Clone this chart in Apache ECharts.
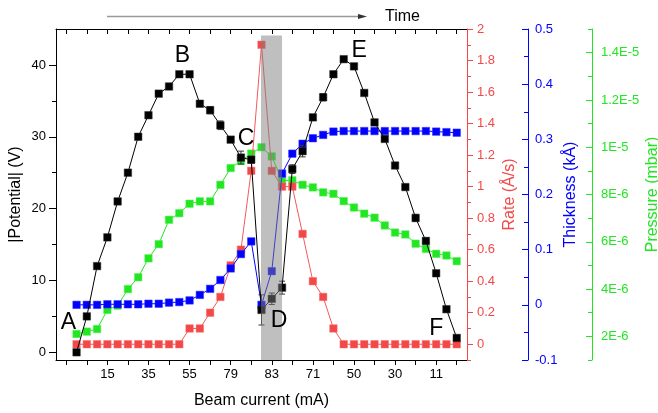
<!DOCTYPE html>
<html>
<head>
<meta charset="utf-8">
<script src="https://cdn.jsdelivr.net/npm/echarts@6/dist/echarts.min.js"></script>
<style>html,body{margin:0;padding:0;background:#fff}#c{width:658px;height:413px}</style>
</head>
<body>
<div id="c"></div>
<script>
// ---- data (x = measurement order, labelled with beam current) ----
const xTickValues = [-1,1,3,5,7,9,11,13,15,17,19,21,23,25,27,29,31,33,35,37];
const xLabelValues = [3,7,11,15,19,23,27,31,35];
const xLabelTexts = ['15','35','55','79','83','71','50','30','11'];

const potential = [0,5,12,16,21,25,30,33,36,37,38.7,38.7,34.6,33.7,31.6,29.6,27.1,26.8,5.9,7.45,9.0,25.5,28.0,32.7,35.5,38.7,40.8,39.8,36.1,32.0,29.7,26.0,23.0,18.7,15.5,11.0,6.0,2.0];
const potentialErr = [0,0,0,0,0,0,0,0,0,0,0.3,0.3,0.4,0.5,0.6,0.4,0.9,0.5,2.1,0.8,0.9,0.6,0.8,0.4,0.5,0.4,0.3,0.3,0.3,0.3,0.3,0.3,0.3,0.5,0.4,0.3,0.2,0.2];
const rate = [0,0,0,0,0,0,0,0,0,0,0,0.1,0.1,0.2,0.3,0.5,0.6,1.1,1.9,1.1,1.0,1.0,0.7,0.4,0.3,0.1,0,0,0,0,0,0,0,0,0,0,0,0];
const thickness = [0,0,0,0.001,0.001,0.001,0.001,0.002,0.002,0.004,0.005,0.008,0.018,0.029,0.045,0.066,0.092,0.115,0.0,0.061,0.238,0.274,0.292,0.302,0.308,0.314,0.315,0.315,0.315,0.315,0.315,0.315,0.315,0.315,0.315,0.314,0.313,0.312];
const pressure = [2.1e-6,2.2e-6,2.31e-6,3.12e-6,3.3e-6,4.0e-6,4.5e-6,5.3e-6,5.9e-6,6.93e-6,7.21e-6,7.61e-6,7.71e-6,7.71e-6,8.41e-6,9.12e-6,9.42e-6,9.73e-6,1.0e-5,9.61e-6,8.58e-6,8.6e-6,8.41e-6,8.3e-6,8.09e-6,8.03e-6,7.72e-6,7.45e-6,7.19e-6,7.02e-6,6.69e-6,6.39e-6,6.31e-6,5.92e-6,5.7e-6,5.49e-6,5.42e-6,5.18e-6];

const potTicks = [0,10,20,30,40];
const potMinor = [5,15,25,35];
const rateTicks = [0,0.2,0.4,0.6,0.8,1,1.2,1.4,1.6,1.8,2];
const rateMinor = [-0.1,0.1,0.3,0.5,0.7,0.9,1.1,1.3,1.5,1.7,1.9];
const thickTicks = [-0.1,0,0.1,0.2,0.3,0.4,0.5];
const thickMinor = [-0.05,0.05,0.15,0.25,0.35,0.45];
const presTicks = [2e-6,4e-6,6e-6,8e-6,1e-5,1.2e-5,1.4e-5];
const presMinor = [1e-6,3e-6,5e-6,7e-6,9e-6,1.1e-5,1.3e-5,1.5e-5];

const bandRange = [17.95, 20, 44.1];   // shaded region (x from, x to, top in |Potential|)
const letters = ['A','B','C','D','E','F'];
const letterX = [-0.8, 10.3, 16.5, 19.7, 27.5, 35.0];
const letterY = [4.1, 41.3, 29.7, 4.35, 42.0, 3.3];

const BLACK='#000000', RED='#f24848', BLUE='#0000ff', GREEN='#22e622';
const FONT='Liberation Sans, Arial, sans-serif';

const chart = echarts.init(document.getElementById('c'), null, {renderer:'canvas'});
const xLabelMap = {}; xLabelValues.forEach((v,i)=>xLabelMap[v]=xLabelTexts[i]);
const idx = a => a.map((v,i)=>[i,v]);

function yAx(o){
  return Object.assign({type:'value', splitLine:{show:false}, nameLocation:'middle', nameRotate:90, nameMoveOverlap:false}, o);
}
function minorAx(pos, offset, min, max, vals, color, inside){
  return {type:'value', position:pos, offset:offset, min:min, max:max, splitLine:{show:false},
    axisLine:{show:false, onZero:false}, axisLabel:{show:false},
    axisTick:{show:true, inside:inside, length:4, customValues:vals, lineStyle:{color:color, width:1}}};
}
const presFmt = v => v.toExponential().replace('e','E').replace('+','');

const option = {
  animation:false,
  textStyle:{fontFamily:FONT},
  grid:{left:56, right:191, top:29, bottom:53, containLabel:false, outerBoundsMode:'none'},
  xAxis:[
    {type:'value', min:-2, max:38, position:'bottom', splitLine:{show:false},
     axisLine:{onZero:false, lineStyle:{color:BLACK, width:1}},
     axisTick:{customValues:xTickValues, length:5, lineStyle:{color:BLACK}},
     axisLabel:{customValues:xLabelValues, formatter:v=>xLabelMap[v]||'', color:BLACK, fontSize:13, margin:8},
     name:'Beam current (mA)', nameLocation:'middle', nameGap:33, nameTextStyle:{fontSize:16, color:BLACK}},
    {type:'value', min:-2, max:38, position:'top', splitLine:{show:false},
     axisLine:{onZero:false, lineStyle:{color:BLACK, width:1}},
     axisTick:{inside:true, customValues:xTickValues, length:5, lineStyle:{color:BLACK}},
     axisLabel:{show:false}}
  ],
  yAxis:[
    yAx({position:'left', min:-1.07, max:45,
      axisLine:{show:true, onZero:false, lineStyle:{color:BLACK}},
      axisTick:{customValues:potTicks, length:7, lineStyle:{color:BLACK}},
      axisLabel:{customValues:potTicks, color:BLACK, fontSize:13, margin:10},
      name:'|Potential| (V)', nameGap:32, nameTextStyle:{fontSize:16, color:BLACK}}),
    yAx({position:'right', offset:0, min:-0.1, max:2,
      axisLine:{show:true, onZero:false, lineStyle:{color:RED}},
      axisTick:{customValues:rateTicks, length:6, lineStyle:{color:RED}},
      axisLabel:{customValues:rateTicks, color:RED, fontSize:13, margin:10},
      name:'Rate (Å/s)', nameGap:35, nameTextStyle:{fontSize:16, color:RED}}),
    yAx({position:'right', offset:61, min:-0.1, max:0.5,
      axisLine:{show:true, onZero:false, lineStyle:{color:BLUE}},
      axisTick:{inside:true, customValues:thickTicks, length:6, lineStyle:{color:BLUE}},
      axisLabel:{customValues:thickTicks, color:BLUE, fontSize:13, margin:7},
      name:'Thickness (kÅ)', nameGap:35, nameTextStyle:{fontSize:16, color:BLUE}}),
    yAx({position:'right', offset:125, min:1e-6, max:1.5e-5,
      axisLine:{show:true, onZero:false, lineStyle:{color:GREEN}},
      axisTick:{inside:true, customValues:presTicks, length:6, lineStyle:{color:GREEN}},
      axisLabel:{customValues:presTicks, formatter:presFmt, color:GREEN, fontSize:13, margin:9},
      name:'Pressure (mbar)', nameGap:53, nameTextStyle:{fontSize:16, color:GREEN}}),
    minorAx('left', 0, -1.07, 45, potMinor, BLACK, false),
    minorAx('right', 0, -0.1, 2, rateMinor, RED, false),
    minorAx('right', 61, -0.1, 0.5, thickMinor, BLUE, true),
    minorAx('right', 125, 1e-6, 1.5e-5, presMinor, GREEN, true)
  ],
  graphic:[
    {type:'line', shape:{x1:107, y1:16.5, x2:362, y2:16.5}, style:{stroke:'#999', lineWidth:1.5}, silent:true},
    {type:'polygon', shape:{points:[[358,14],[367,16.5],[358,19]]}, style:{fill:'#333'}, silent:true},
    {type:'text', x:385, y:16.5, style:{text:'Time', font:'16px '+FONT, fill:'#000', verticalAlign:'middle'}, silent:true}
  ],
  series:[
    {type:'line', name:'Pressure', xAxisIndex:0, yAxisIndex:3, data:idx(pressure), symbol:'rect', symbolSize:7.5,
     itemStyle:{color:GREEN, borderColor:'#5cf05c', borderWidth:0.5}, lineStyle:{color:GREEN, width:1}, z:2},
    {type:'line', name:'Rate', xAxisIndex:0, yAxisIndex:1, data:idx(rate), symbol:'rect', symbolSize:7.5,
     itemStyle:{color:RED, borderColor:'#f87070', borderWidth:0.5}, lineStyle:{color:'#f25a5a', width:1}, z:3},
    {type:'line', name:'Thickness', xAxisIndex:0, yAxisIndex:2, data:idx(thickness), symbol:'rect', symbolSize:7.5,
     itemStyle:{color:BLUE, borderColor:'#3535ff', borderWidth:0.5}, lineStyle:{color:BLUE, width:1}, z:4},
    {type:'custom', name:'err', xAxisIndex:0, yAxisIndex:0, z:5,
     data:potential.map((v,i)=>[i,v,potentialErr[i]]),
     renderItem:function(params, api){
       const x=api.value(0), y=api.value(1), e=api.value(2);
       if(!(e>0)) return null;
       const p1=api.coord([x,y+e]), p2=api.coord([x,y-e]);
       const st={stroke:'#333', lineWidth:1};
       return {type:'group', children:[
         {type:'line', shape:{x1:p1[0],y1:p1[1],x2:p2[0],y2:p2[1]}, style:st},
         {type:'line', shape:{x1:p1[0]-3,y1:p1[1],x2:p1[0]+3,y2:p1[1]}, style:st},
         {type:'line', shape:{x1:p2[0]-3,y1:p2[1],x2:p2[0]+3,y2:p2[1]}, style:st}
       ]};
     }},
    {type:'line', name:'Potential', xAxisIndex:0, yAxisIndex:0, data:idx(potential), symbol:'rect', symbolSize:7.5,
     itemStyle:{color:BLACK, borderColor:'#333', borderWidth:0.5}, lineStyle:{color:BLACK, width:1}, z:6},
    {type:'custom', name:'band', xAxisIndex:0, yAxisIndex:0, z:10, silent:true,
     data:[bandRange],
     renderItem:function(params, api){
       const a=api.coord([api.value(0), api.value(2)]);
       const b=api.coord([api.value(1), -1.07]);
       return {type:'rect', shape:{x:a[0], y:a[1], width:b[0]-a[0], height:b[1]-a[1]}, style:{fill:'rgba(128,128,128,0.5)'}};
     }},
    {type:'custom', name:'letters', xAxisIndex:0, yAxisIndex:0, z:11, silent:true,
     data:letters.map((t,i)=>[letterX[i], letterY[i], i]),
     renderItem:function(params, api){
       const p=api.coord([api.value(0), api.value(1)]);
       return {type:'text', x:p[0], y:p[1], style:{text:letters[api.value(2)], font:'23px '+FONT, fill:'#000', align:'center', verticalAlign:'middle'}};
     }}
  ]
};
chart.setOption(option);
</script>
</body>
</html>
